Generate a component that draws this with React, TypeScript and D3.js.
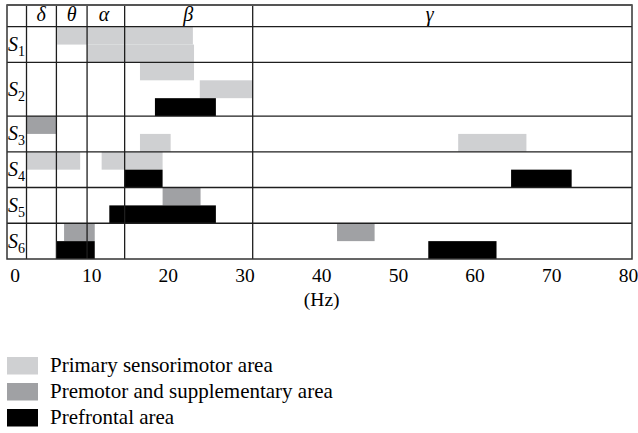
import React from "react";
import * as d3 from "d3";

const subjects = ["1", "2", "3", "4", "5", "6"];
const lanesPerSubject = [2, 3, 2, 2, 2, 2];
const bandNames = ["δ", "θ", "α", "β", "γ"];
const bandEdgesHz = [1.5, 5.4, 9.4, 14.3, 31.0];
const bandLabelHz = [3.4, 7.4, 11.6, 22.6, 54.1];
const xTicks = [0, 10, 20, 30, 40, 50, 60, 70, 80];
const areas = ["Primary sensorimotor area", "Premotor and supplementary area", "Prefrontal area"];
const areaColors = ["#cfd0d2", "#a0a1a4", "#000000"];

// subject index, lane within subject, start Hz, end Hz, area index
const bars: [number, number, number, number, number][] = [
  [0, 0, 5.5, 23.2, 0],
  [0, 1, 9.4, 23.35, 0],
  [1, 0, 16.3, 23.35, 0],
  [1, 1, 24.1, 31.0, 0],
  [1, 2, 18.25, 26.2, 2],
  [2, 0, 1.5, 5.35, 1],
  [2, 1, 16.3, 20.3, 0],
  [2, 1, 57.8, 66.7, 0],
  [3, 0, 1.5, 8.5, 0],
  [3, 0, 11.3, 19.25, 0],
  [3, 1, 14.3, 19.25, 2],
  [3, 1, 64.7, 72.6, 2],
  [4, 0, 19.25, 24.2, 1],
  [4, 1, 12.3, 26.2, 2],
  [5, 0, 6.4, 10.4, 1],
  [5, 1, 5.4, 10.4, 2],
  [5, 0, 42.0, 46.9, 1],
  [5, 1, 53.9, 62.8, 2],
];

export default function App() {
  const W = 638, H = 433;
  const x = d3.scaleLinear().domain([0, 80]).range([15, 628.4]);
  const totalLanes = d3.sum(lanesPerSubject);
  const y = d3.scaleLinear().domain([0, totalLanes]).range([26.7, 259]);
  const laneStart = [0, ...d3.cumsum(lanesPerSubject)];
  const left = 7, right = 632, top = 5, bottom = y(totalLanes);
  const ts: React.CSSProperties = { fontFamily: "Liberation Serif" };
  const lineColor = "#1e1e1e";

  return (
    <svg width={W} height={H} style={{ position: "absolute", left: 0, top: 0, background: "#fff" }}>
      {bars.map(([s, l, a, b, c], i) => {
        const lane = laneStart[s] + l;
        return (
          <rect key={i} x={x(a)} width={x(b) - x(a)} y={y(lane)} height={y(lane + 1) - y(lane)} fill={areaColors[c]} />
        );
      })}
      {laneStart.slice(0, -1).map((ls, i) => (
        <line key={"h" + i} x1={left} x2={right} y1={y(ls)} y2={y(ls)} stroke={lineColor} strokeWidth={1.3} />
      ))}
      {bandEdgesHz.map((e, i) => (
        <line key={"v" + i} x1={x(e)} x2={x(e)} y1={top} y2={bottom} stroke={lineColor} strokeWidth={1.3} />
      ))}
      <rect x={left} y={top} width={right - left} height={bottom - top} fill="none" stroke="#333" strokeWidth={1.5} />
      <line x1={left} x2={right} y1={top} y2={top} stroke="#555" strokeWidth={2} />
      {bandNames.map((n, i) => (
        <text key={"b" + i} x={x(bandLabelHz[i])} y={21} textAnchor="middle" fontStyle="italic" fontSize={20} style={ts}>
          {n}
        </text>
      ))}
      {subjects.map((s, i) => {
        const cy = (y(laneStart[i]) + y(laneStart[i + 1])) / 2;
        return (
          <text key={"s" + i} x={8} y={cy + 6.5} fontSize={20} fontStyle="italic" style={ts}>
            S
            <tspan fontStyle="normal" fontSize={14} dy={5}>{s}</tspan>
          </text>
        );
      })}
      {xTicks.map((t) => (
        <text key={"t" + t} x={x(t)} y={281.5} textAnchor="middle" fontSize={19.5} style={ts}>
          {t}
        </text>
      ))}
      <text x={x(40)} y={306} textAnchor="middle" fontSize={19.5} style={ts}>(Hz)</text>
      {areas.map((a, i) => (
        <g key={"l" + i} transform={`translate(7, ${357 + i * 26})`}>
          <rect x={0} y={0} width={31} height={17.5} fill={areaColors[i]} />
          <text x={43} y={14.5} fontSize={21} style={ts}>{a}</text>
        </g>
      ))}
    </svg>
  );
}
